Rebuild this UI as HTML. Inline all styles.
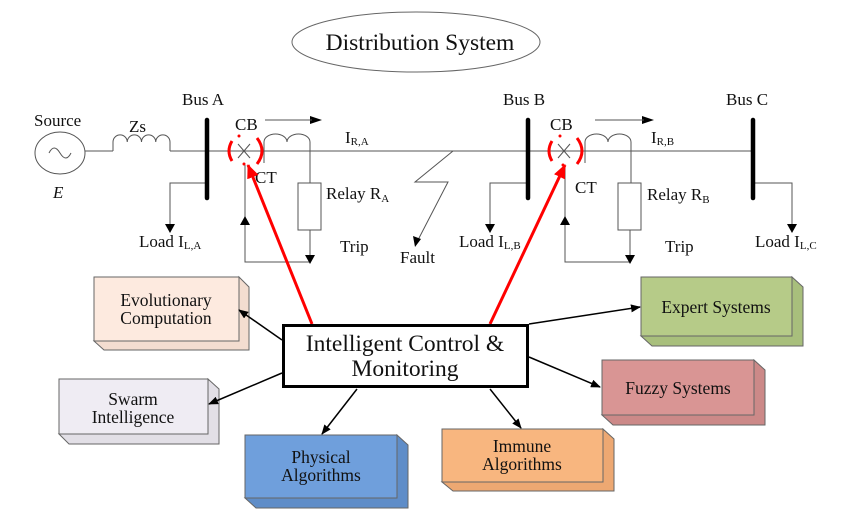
<!DOCTYPE html>
<html><head><meta charset="utf-8"><style>
html,body{margin:0;padding:0;background:#fff;}
svg{display:block;}
text{font-family:"Liberation Serif",serif;fill:#111;}
</style></head><body>
<svg width="850" height="518" viewBox="0 0 850 518" xmlns="http://www.w3.org/2000/svg">
<defs>
<marker id="ah" markerWidth="10" markerHeight="8" refX="9" refY="4" orient="auto" markerUnits="userSpaceOnUse"><path d="M0,0 L10,4 L0,8 Z" fill="#000"/></marker>
<marker id="ahr" markerWidth="14" markerHeight="12" refX="13" refY="6" orient="auto" markerUnits="userSpaceOnUse"><path d="M0,0 L14,6 L0,12 Z" fill="#f00"/></marker>
</defs>
<ellipse cx="416" cy="42" rx="124" ry="30" fill="none" stroke="#666" stroke-width="1"/>
<text x="420" y="50" font-size="23.5" text-anchor="middle">Distribution System</text>

<g stroke="#555" stroke-width="1" fill="none">
<ellipse cx="60" cy="153" rx="25" ry="21"/>
<path d="M49,153 q5,-10 11,0 t11,0"/>
<line x1="85" y1="151" x2="113" y2="151"/>
<path d="M113,151 V142 a7,7 0 0 1 14.25,0 a7,7 0 0 1 14.25,0 a7,7 0 0 1 14.25,0 a7,7 0 0 1 14.25,0 V151"/>
<line x1="170" y1="151" x2="753" y2="151"/>
<path d="M264,163 V142 a11.5,8 0 0 1 23,0 a11.5,8 0 0 1 23,0 V183"/>
<rect x="298" y="183" width="23" height="47"/>
<path d="M310,230 V262 H245 V165" />
<path d="M207,183 H170 V225"/>
<path d="M453,151 L415,182 L448,182 L418,240"/>
<path d="M585,163 V142 a11.5,8 0 0 1 23,0 a11.5,8 0 0 1 23,0 V183"/>
<rect x="618" y="183" width="23" height="47"/>
<path d="M630,230 V262 H565 V165"/>
<path d="M528,183 H490 V225"/>
<path d="M753,183 H792 V225"/>
<path d="M238,144 l12,14 M250,144 l-12,14"/>
<path d="M558,144 l12,14 M570,144 l-12,14"/>
</g>
<g fill="#000">
<path d="M165,224 h10 l-5,9z"/><path d="M485,224 h10 l-5,9z"/><path d="M787,224 h10 l-5,9z"/>
<path d="M305,255 h10 l-5,9z"/><path d="M625,255 h10 l-5,9z"/>
<path d="M240,225 h10 l-5,-9z"/><path d="M560,225 h10 l-5,-9z"/>
<path d="M413,236 l8,3 l-6,8z"/>
<path d="M310,116 l12,4 l-12,4z"/><path d="M642,116 l12,4 l-12,4z"/>
</g>
<g stroke="#555" stroke-width="1"><line x1="265" y1="120" x2="312" y2="120"/><line x1="595" y1="120" x2="644" y2="120"/></g>
<g stroke="#000" stroke-width="4.5" stroke-linecap="round">
<line x1="207" y1="120" x2="207" y2="198"/><line x1="528" y1="120" x2="528" y2="198"/><line x1="753" y1="120" x2="753" y2="198"/>
</g>
<g stroke="#f00" stroke-width="3" fill="none">
<path d="M232,141 q-6,10 0,20"/><path d="M257,138 q10,13 0,26"/>
<path d="M552,141 q-6,10 0,20"/><path d="M577,138 q10,13 0,26"/>
</g>
<g fill="#f00"><circle cx="239" cy="136" r="1.5"/><circle cx="244" cy="164" r="1.5"/><circle cx="560" cy="136" r="1.5"/><circle cx="563" cy="165" r="1.5"/></g>
<g font-size="17">
<text x="34" y="126">Source</text><text x="129" y="132">Zs</text><text x="53" y="198" font-style="italic">E</text>
<text x="182" y="105">Bus A</text><text x="503" y="105">Bus B</text><text x="726" y="105">Bus C</text>
<text x="235" y="130">CB</text><text x="550" y="130">CB</text>
<text x="345" y="143">I<tspan font-size="11" dy="2">R,A</tspan></text>
<text x="651" y="143">I<tspan font-size="11" dy="2">R,B</tspan></text>
<text x="255" y="183">CT</text><text x="575" y="193">CT</text>
<text x="326" y="199">Relay R<tspan font-size="11" dy="3">A</tspan></text>
<text x="647" y="200">Relay R<tspan font-size="11" dy="3">B</tspan></text>
<text x="340" y="252">Trip</text><text x="665" y="252">Trip</text>
<text x="400" y="263">Fault</text>
<text x="139" y="247">Load I<tspan font-size="11" dy="2">L,A</tspan></text>
<text x="459" y="247">Load I<tspan font-size="11" dy="2">L,B</tspan></text>
<text x="755" y="247">Load I<tspan font-size="11" dy="2">L,C</tspan></text>
</g>

<g stroke="#666" stroke-width="1">
<path d="M239,277 l10,10 V350 H104 l-10,-9 H239 Z" fill="#f3ddd0"/><rect x="94" y="277" width="145" height="64" fill="#fdeadf"/>
<path d="M208,379 l11,10 V444 H69 l-10,-10 H208 Z" fill="#e2dfe6"/><rect x="59" y="379" width="149" height="55" fill="#efecf3"/>
<path d="M397,435 l11,10 V508 H256 l-11,-10 H397 Z" fill="#5f8dc8"/><rect x="245" y="435" width="152" height="63" fill="#6f9fdc"/>
<path d="M792,277 l11,10 V346 H652 l-11,-10 H792 Z" fill="#a8bf7c"/><rect x="641" y="277" width="151" height="59" fill="#b6cb88"/>
<path d="M754,360 l11,10 V425 H613 l-11,-10 H754 Z" fill="#cc8988"/><rect x="602" y="360" width="152" height="55" fill="#d99594"/>
<path d="M603,429 l11,10 V491 H453 l-11,-9 H603 Z" fill="#eda872"/><rect x="442" y="429" width="161" height="53" fill="#f8b67f"/>
</g>
<g font-size="17.5" text-anchor="middle">
<text x="166" y="306">Evolutionary</text><text x="166" y="324">Computation</text>
<text x="133" y="405">Swarm</text><text x="133" y="423">Intelligence</text>
<text x="321" y="463">Physical</text><text x="321" y="481">Algorithms</text>
<text x="716" y="313">Expert Systems</text>
<text x="678" y="394">Fuzzy Systems</text>
<text x="522" y="452">Immune</text><text x="522" y="470">Algorithms</text>
</g>

<g stroke="#000" stroke-width="1.5" marker-end="url(#ah)">
<line x1="282" y1="340" x2="239" y2="310"/>
<line x1="282" y1="373" x2="209" y2="404"/>
<line x1="357" y1="389" x2="322" y2="434"/>
<line x1="490" y1="389" x2="521" y2="428"/>
<line x1="529" y1="357" x2="600" y2="387"/>
<line x1="529" y1="324" x2="640" y2="307"/>
</g>
<g stroke="#f00" stroke-width="3" marker-end="url(#ahr)">
<line x1="312" y1="324" x2="248" y2="165"/>
<line x1="490" y1="324" x2="565" y2="165"/>
</g>
<rect x="283.5" y="325.5" width="244" height="61" fill="#fff" stroke="#000" stroke-width="3"/>
<text x="405" y="351" font-size="23.5" text-anchor="middle">Intelligent Control &amp;</text>
<text x="405" y="376" font-size="23.5" text-anchor="middle">Monitoring</text>
</svg>
</body></html>
